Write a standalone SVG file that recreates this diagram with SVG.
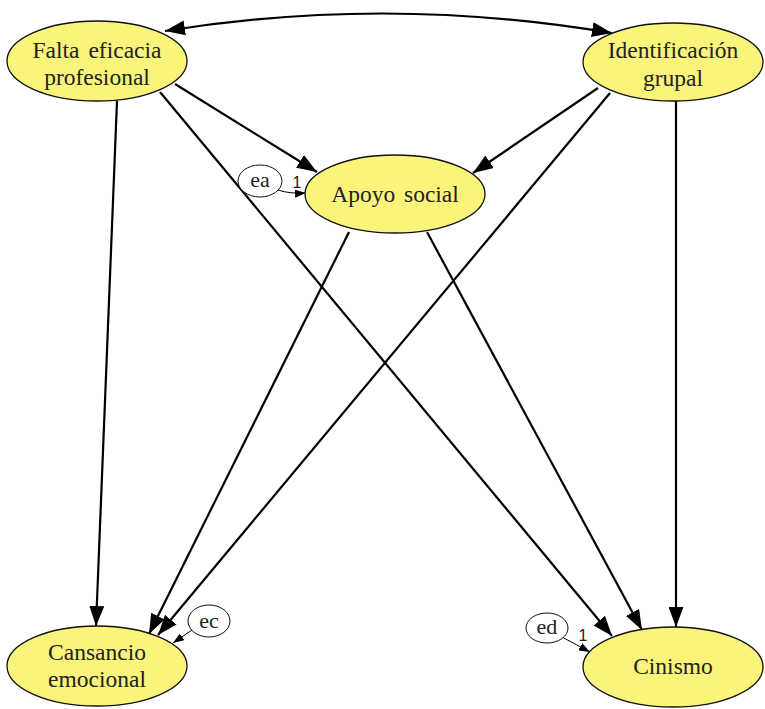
<svg xmlns="http://www.w3.org/2000/svg" width="765" height="709" viewBox="0 0 765 709">
<style>
.lat{fill:#fbf47b;stroke:#111;stroke-width:1.3}
.err{fill:#fff;stroke:#111;stroke-width:1}
.t{font-family:"Liberation Serif","Times New Roman",serif;font-size:23.5px;fill:#222;text-anchor:middle;word-spacing:3px}
.te{font-family:"Liberation Serif","Times New Roman",serif;font-size:22px;fill:#222;text-anchor:middle}
.one{font-family:"Liberation Sans",Arial,sans-serif;font-size:16px;fill:#222;text-anchor:middle}
.c{stroke:#000;stroke-width:2.2;fill:none;marker-end:url(#ah)}
.cs{stroke:#000;stroke-width:1;fill:none;marker-end:url(#as)}
</style>
<defs>
<marker id="ah" markerUnits="userSpaceOnUse" markerWidth="21" markerHeight="15" refX="20" refY="7.5" orient="auto-start-reverse"><path d="M0,0 L20,7.5 L0,15 z" fill="#000"/></marker>
<marker id="as" markerUnits="userSpaceOnUse" markerWidth="12" markerHeight="8" refX="11" refY="4" orient="auto"><path d="M0,0 L11,4 L0,8 z" fill="#000"/></marker>
</defs>
<g id="connectors">
<path class="c" d="M165,31 Q388,-5 612,33" marker-start="url(#ah)"/>
<line class="c" x1="175" y1="84" x2="317" y2="172"/>
<line class="c" x1="598" y1="88" x2="473" y2="173"/>
<line class="c" x1="117" y1="101" x2="96" y2="626"/>
<line class="c" x1="676" y1="101" x2="676" y2="627"/>
<line class="c" x1="160" y1="92" x2="612" y2="636"/>
<line class="c" x1="610" y1="93" x2="158" y2="635"/>
<line class="c" x1="349" y1="232" x2="149" y2="634"/>
<line class="c" x1="427" y1="232" x2="642" y2="630"/>
<path class="cs" d="M278,190 Q290,194 306,193"/>
<line class="cs" x1="192" y1="630" x2="173" y2="643"/>
<line class="cs" x1="562" y1="637" x2="590" y2="652"/>
<text class="one" x="297" y="188">1</text>
<text class="one" x="583" y="641">1</text>
</g>
<g id="falta"><ellipse class="lat" cx="97" cy="61" rx="90" ry="40"/><text class="t" x="97" y="58">Falta eficacia</text><text class="t" x="97" y="85">profesional</text></g>
<g id="identificacion"><ellipse class="lat" cx="673" cy="62" rx="90" ry="39"/><text class="t" x="673" y="58">Identificación</text><text class="t" x="673" y="86">grupal</text></g>
<g id="apoyo"><ellipse class="lat" cx="395" cy="194" rx="90" ry="39"/><text class="t" x="395" y="202">Apoyo social</text></g>
<g id="cansancio"><ellipse class="lat" cx="97" cy="666" rx="90" ry="40"/><text class="t" x="97" y="660">Cansancio</text><text class="t" x="97" y="687">emocional</text></g>
<g id="cinismo"><ellipse class="lat" cx="673" cy="667" rx="90" ry="40"/><text class="t" x="673" y="674">Cinismo</text></g>
<g id="ea"><ellipse class="err" cx="260" cy="181" rx="22" ry="16"/><text class="te" x="260" y="187">ea</text></g>
<g id="ec"><ellipse class="err" cx="209" cy="621" rx="21" ry="16"/><text class="te" x="209" y="628">ec</text></g>
<g id="ed"><ellipse class="err" cx="547" cy="628" rx="21" ry="15"/><text class="te" x="547" y="634">ed</text></g>
</svg>
